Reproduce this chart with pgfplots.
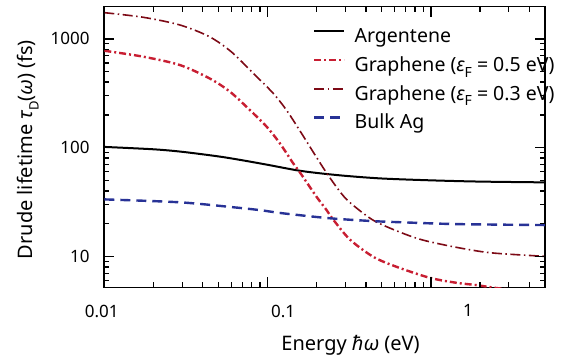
\documentclass[border=0pt]{standalone}
\usepackage{fontspec}
\setmainfont{Noto Sans}
\newfontfamily\gr{Noto Sans}
\usepackage{pgfplots}
\pgfplotsset{compat=1.18}
\definecolor{gred}{RGB}{200,30,50}
\definecolor{dred}{RGB}{125,10,22}
\definecolor{bblue}{RGB}{40,50,150}
\newcommand{\gk}[1]{{\gr\itshape #1}}
\newcommand{\sub}[2]{\raisebox{-0.28em}{\fontsize{#1}{#1}\selectfont #2}}
\begin{document}
\begin{tikzpicture}
\begin{axis}[
  at={(104.3bp,69.5bp)}, anchor=south west, scale only axis,
  width=440.7bp, height=280.8bp,
  xmode=log, ymode=log,
  xmin=0.01, xmax=5, ymin=5.17, ymax=1977,
  xtick={0.01,0.1,1},
  xticklabels={\hspace*{-5.2bp}0.01,\hspace*{31.2bp}0.1,\hspace*{74bp}1},
  ytick={10,100,1000},
  yticklabels={10,100,1000},
  major tick length=10bp,
  every tick/.append style={black, line width=1.3bp},
  axis background/.style={draw=black, line width=1.6bp},
  xticklabel style={font=\fontsize{17bp}{20bp}\selectfont, inner sep=0pt, anchor=north, yshift=-17bp},
  yticklabel style={font=\fontsize{17bp}{20bp}\selectfont, inner sep=0pt, anchor=east, xshift=-14.5bp},
  xlabel={Energy \gk{ħω} (eV)},
  xlabel style={font=\fontsize{20bp}{22bp}\selectfont, at={(axis description cs:0.5587,-0.2226)}, anchor=base, inner sep=0pt},
  ylabel={Drude lifetime \gk{τ}\sub{13bp}{D}(\gk{ω}) (fs)},
  ylabel style={font=\fontsize{20bp}{22bp}\selectfont, at={(axis description cs:-0.1618,0.4907)}, anchor=base, inner sep=0pt},
  legend cell align=left,
  legend image code/.code={\draw[#1] (0bp,6.5bp) -- (30bp,6.5bp);},
  legend style={at={(axis description cs:0.4736,0.9217)}, anchor=north west,
    draw=none, fill=none, inner sep=0pt, column sep=9bp, row sep=10.7bp,
    font=\fontsize{19.5bp}{24bp}\selectfont,
    nodes={inner sep=0pt, text height=14bp, text depth=4bp}},
]
\addplot[black, line width=2bp, smooth] coordinates {
(0.01,101.5)(0.02,96.5)(0.03,91.5)(0.05,83)(0.07,76.5)(0.1,69.5)(0.15,62)(0.2,58.5)(0.3,55)(0.5,52)(1,50)(2,48.7)(5,47.9)};
\addlegendentry{Argentene}
\addplot[gred, line width=2.4bp, smooth, dash pattern=on 7bp off 3bp on 2bp off 3bp] coordinates {
(0.01,778)(0.0173,686)(0.029,575)(0.044,434)(0.0588,327)(0.0778,222)(0.0986,156)(0.1189,109.6)(0.1435,71.7)(0.158,59)(0.1995,35.3)(0.2296,26.7)(0.251,22)(0.319,14.3)(0.443,9.92)(0.615,8.02)(0.984,6.35)(1.435,5.71)(1.9,5.44)(2.64,5.07)(5,4.6)};
\addlegendentry{Graphene (\gk{ε}\sub{14bp}{F} = 0.5 eV)}
\addplot[dred, line width=1.6bp, smooth, dash pattern=on 10bp off 3.5bp on 1.5bp off 3.5bp] coordinates {
(0.01,1742)(0.0173,1580)(0.029,1343)(0.044,1048)(0.06,760)(0.0817,483)(0.1082,316)(0.1306,221)(0.1577,143)(0.19,91.4)(0.2296,58.6)(0.277,39.5)(0.319,31.3)(0.443,21.5)(0.646,16.7)(0.896,14.1)(1.435,12.1)(2.3,10.8)(4.43,10.1)(5,10.0)};
\addlegendentry{Graphene (\gk{ε}\sub{14bp}{F} = 0.3 eV)}
\addplot[bblue, line width=2.4bp, smooth, dash pattern=on 10bp off 6bp] coordinates {
(0.01,33.4)(0.029,31.4)(0.0613,28.3)(0.09,26.6)(0.1235,24.9)(0.24,22.4)(0.44,21.1)(0.646,20.6)(1.435,19.8)(5,19.4)};
\addlegendentry{Bulk Ag}
% frame tick marks
\pgfplotsinvokeforeach{0.01,0.1,1}{
  \draw[line width=1.3bp] (axis cs:#1,5.17) -- ++(0pt,10bp);
  \draw[line width=1.3bp] (axis cs:#1,1977) -- ++(0pt,-10bp);}
\pgfplotsinvokeforeach{0.02,0.03,0.04,0.05,0.06,0.07,0.08,0.09,0.2,0.3,0.4,0.5,0.6,0.7,0.8,0.9,2,3,4}{
  \draw[line width=1.3bp] (axis cs:#1,5.17) -- ++(0pt,5bp);
  \draw[line width=1.3bp] (axis cs:#1,1977) -- ++(0pt,-5bp);}
\pgfplotsinvokeforeach{10,100,1000}{
  \draw[line width=1.3bp] (axis cs:0.01,#1) -- ++(10bp,0pt);
  \draw[line width=1.3bp] (axis cs:5,#1) -- ++(-10bp,0pt);}
\pgfplotsinvokeforeach{6,7,8,9,20,30,40,50,60,70,80,90,200,300,400,500,600,700,800,900}{
  \draw[line width=1.3bp] (axis cs:0.01,#1) -- ++(5bp,0pt);
  \draw[line width=1.3bp] (axis cs:5,#1) -- ++(-5bp,0pt);}
\end{axis}
\path (0,0) rectangle (561bp,357bp);
\end{tikzpicture}
\end{document}
